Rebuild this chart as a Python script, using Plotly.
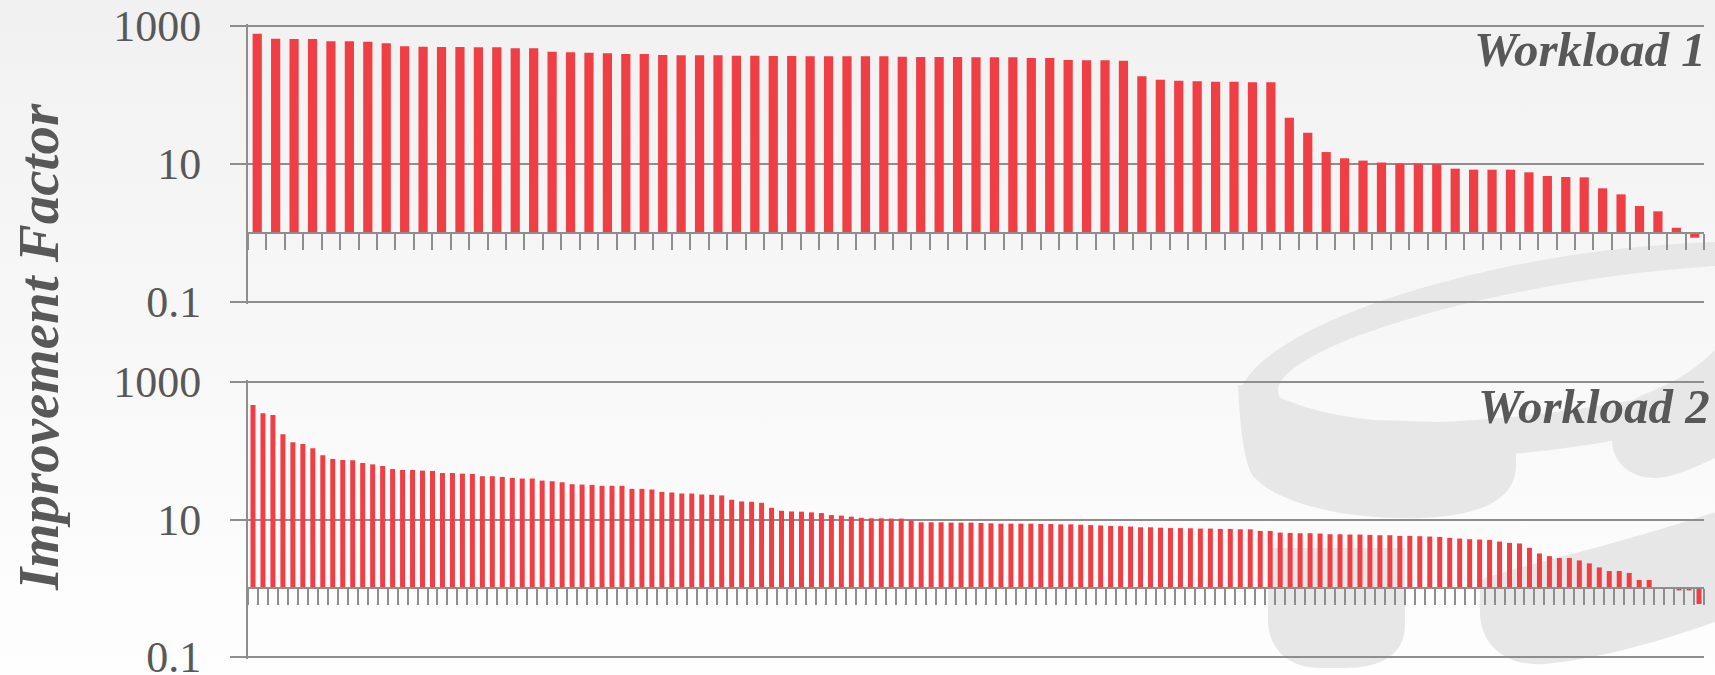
import base64
import plotly.graph_objects as go

# ---------------- data ----------------
workload1 = [774, 655, 648, 648, 600, 600, 593, 561, 508, 502, 496, 496, 491, 491, 475, 475,
             425, 415, 411, 402, 393, 393, 380,
             376, 376, 376, 372, 372, 367, 367, 363, 363, 363, 363, 363, 359, 356, 356, 356,
             352, 352, 352, 344, 344, 321, 318, 318,
             314, 187, 167, 161, 158, 156, 156, 153, 153,
             46.9, 28.4, 14.9, 12.1, 11.2, 10.5, 10.1, 10.1, 9.9,
             8.56, 8.28, 8.28, 8.28, 7.57, 6.7, 6.48, 6.41,
             4.44, 3.63, 2.46, 2.06, 1.19, 0.855]

workload2 = [462, 351, 331, 174, 133, 125, 109, 85.7, 75.8, 73.3,
             72.5, 66.3, 63.4, 60.0, 54.3, 52.5, 52.5, 51.4, 50.8, 47.5,
             47.5, 46.5, 46.0, 42.6, 42.6, 41.6, 40.2, 39.4, 39.4, 36.8,
             36.0, 34.8, 32.6, 32.2, 31.9, 30.9, 30.9, 30.9, 27.9, 27.9,
             27.3, 25.2, 24.7,
             23.9, 23.9, 23.1, 22.9, 22.4, 19.4, 18.3, 18.1, 17.5, 14.8,
             13.4, 13.1, 13.0, 12.7, 12.4, 11.6, 11.4, 11.0, 10.6, 10.4,
             10.4, 10.3, 10.3, 9.7, 9.1, 9.1, 9.1, 9.0, 9.0, 9.0,
             8.9, 8.8, 8.7, 8.7, 8.7, 8.7, 8.6, 8.6, 8.5, 8.5,
             8.4, 8.3, 8.2, 8.05,
             8.0, 7.9, 7.7, 7.7, 7.6, 7.5, 7.5, 7.45, 7.37, 7.37,
             7.29, 7.29, 7.2, 7.2, 6.82, 6.82, 6.45, 6.38, 6.31, 6.31,
             6.24, 6.1, 6.1, 6.04, 6.04, 5.97, 5.9, 5.9, 5.77, 5.77,
             5.71, 5.65, 5.58, 5.4, 5.28, 5.17, 5.11, 5.05, 4.78, 4.57,
             4.48, 3.87, 3.21, 2.93, 2.75, 2.75, 2.54, 2.30, 2.01, 1.78,
             1.78, 1.67, 1.32, 1.32, 0.98, 0.98, 0.93, 0.93, 0.59]

panel_labels = ["Workload 1", "Workload 2"]
y_title = "Improvement Factor"
y_tick_vals = [0.1, 10, 1000]
y_tick_text = ["0.1", "10", "1000"]
bar_base = 1

# ---------------- layout geometry ----------------
W, H = 1715, 675
ML, MR = 248, 11
PAD = 2                       # px of extra range so edge grid lines are drawn
TOP_PX = (26, 302)            # pixel rows of 1000 and 0.1, top panel
BOT_PX = (382, 657)           # pixel rows of 1000 and 0.1, bottom panel
MT = TOP_PX[0] - PAD
MB = H - (BOT_PX[1] + PAD)
PW = W - ML - MR
PH = H - MT - MB

def fy(px):  # pixel-from-top -> paper fraction
    return (H - MB - px) / PH

def fx(px):
    return (px - ML) / PW

def panel(px_pair):
    top, bot = px_pair
    dec = (bot - top) / 4.0
    eps = PAD / dec
    rng = [-1 - eps, 3 + eps]
    dom = [fy(bot + PAD), fy(top - PAD)]
    return rng, dom

top_rng, top_dom = panel(TOP_PX)
bot_rng, bot_dom = panel(BOT_PX)

def base_pos(dom, rng):
    return dom[0] + (0 - rng[0]) / (rng[1] - rng[0]) * (dom[1] - dom[0])

RED = "#EF3E44"
GRID = "#8e8e8e"
TXT = "#585858"
SERIF = "Liberation Serif"

fig = go.Figure()
for vals, xa, ya in [(workload1, "x", "y"), (workload2, "x2", "y2")]:
    fig.add_trace(go.Bar(
        x=list(range(len(vals))),
        y=[v - bar_base for v in vals],
        base=bar_base,
        customdata=vals,
        hovertemplate="%{customdata}<extra></extra>",
        marker=dict(color=RED, line=dict(width=0)),
        width=0.5,
        xaxis=xa, yaxis=ya, showlegend=False,
    ))

def xaxis_cfg(n, dom, rng):
    return dict(
        range=[-0.5, n - 0.5], anchor="free", position=base_pos(dom, rng),
        showgrid=False, zeroline=False, showline=True, linecolor=GRID, linewidth=2,
        ticks="outside", ticklen=16, tickwidth=2, tickcolor=GRID,
        tickmode="array", tickvals=[i - 0.5 for i in range(n + 1)],
        showticklabels=False, domain=[0, 1], automargin=False,
    )

def yaxis_cfg(dom, rng, anchor):
    return dict(
        type="log", range=rng, domain=dom, anchor=anchor,
        tickmode="array", tickvals=y_tick_vals, ticktext=y_tick_text,
        showgrid=True, gridcolor=GRID, gridwidth=2,
        showline=True, linecolor=GRID, linewidth=2,
        ticks="outside", ticklen=16, tickwidth=2, tickcolor=GRID,
        ticklabelstandoff=20, automargin=False, ticklabeloverflow="allow",
        tickfont=dict(family=SERIF, size=44, color=TXT),
        zeroline=False,
    )

# background: soft vertical gradient with faint logo shapes
svg = f'''<svg xmlns="http://www.w3.org/2000/svg" width="{W}" height="{H}" viewBox="0 0 {W} {H}">
<defs><linearGradient id="g" x1="0" y1="0" x2="0" y2="1">
<stop offset="0" stop-color="#f1f1f1"/><stop offset="1" stop-color="#fefefe"/></linearGradient></defs>
<rect width="{W}" height="{H}" fill="url(#g)"/>
<g fill="#e7e7e7">
<g transform="rotate(-9 1580 350)">
<path fill-rule="evenodd" d="M1235,350 A345,95 0 1,0 1925,350 A345,95 0 1,0 1235,350 Z M1275,345 A315,63 0 1,0 1905,345 A315,63 0 1,0 1275,345 Z"/>
</g>
<path d="M1238,385 C1240,430 1245,470 1255,478 C1280,505 1350,520 1420,518 C1480,516 1516,500 1516,465 L1516,440 C1510,425 1495,422 1470,423 L1375,420 C1330,416 1290,405 1260,388 Z"/>
<path d="M1612,440 C1612,420 1625,400 1650,392 C1680,380 1700,365 1715,350 L1715,458 C1690,470 1670,478 1655,478 C1630,478 1612,462 1612,440 Z"/>
<path d="M1268,548 L1405,548 L1405,625 C1405,655 1380,668 1345,668 L1320,668 C1290,668 1268,650 1268,620 Z"/>
<path d="M1480,580 C1520,565 1600,550 1715,512 L1715,622 C1650,645 1590,660 1545,664 C1505,667 1482,645 1480,615 Z"/>
</g></svg>'''
src = "data:image/svg+xml;base64," + base64.b64encode(svg.encode()).decode()

annotations = [
    dict(text=y_title, x=fx(38), y=fy(347), xref="paper", yref="paper",
         textangle=-90, showarrow=False, xanchor="center", yanchor="middle",
         font=dict(family=SERIF, size=57, color=TXT, style="italic", weight="bold")),
    dict(text=panel_labels[0], x=fx(1708), y=fy(50), xref="paper", yref="paper",
         showarrow=False, xanchor="right", yanchor="middle",
         font=dict(family=SERIF, size=49, color=TXT, style="italic", weight="bold")),
    dict(text=panel_labels[1], x=fx(1712), y=fy(406), xref="paper", yref="paper",
         showarrow=False, xanchor="right", yanchor="middle",
         font=dict(family=SERIF, size=49, color=TXT, style="italic", weight="bold")),
]

fig.update_layout(
    width=W, height=H,
    margin=dict(l=ML, r=MR, t=MT, b=MB, pad=0, autoexpand=False),
    paper_bgcolor="#f8f8f8", plot_bgcolor="rgba(0,0,0,0)",
    bargap=0.5,
    xaxis=xaxis_cfg(len(workload1), top_dom, top_rng),
    yaxis=yaxis_cfg(top_dom, top_rng, "x"),
    xaxis2=xaxis_cfg(len(workload2), bot_dom, bot_rng),
    yaxis2=yaxis_cfg(bot_dom, bot_rng, "x2"),
    annotations=annotations,
    images=[dict(source=src, xref="paper", yref="paper",
                 x=-ML / PW, y=1 + MT / PH, sizex=W / PW, sizey=H / PH,
                 xanchor="left", yanchor="top", sizing="stretch", layer="below")],
)

fig.write_html(
    "out.html",
    config={"displayModeBar": False},
    post_script="document.body.style.margin='0';document.body.style.overflow='hidden';",
)
